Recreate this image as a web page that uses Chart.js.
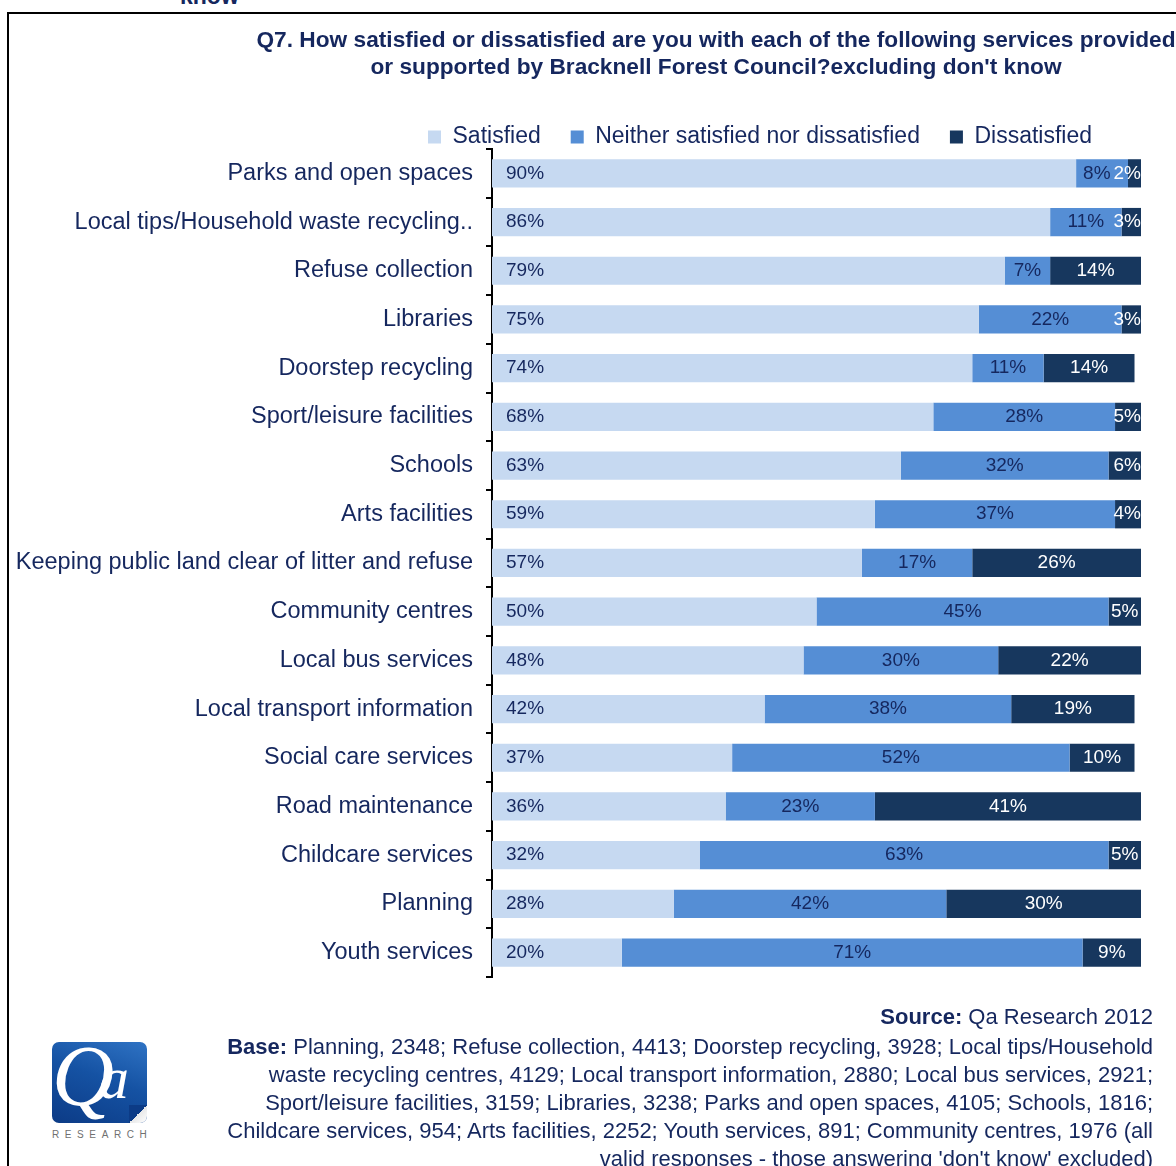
<!DOCTYPE html>
<html>
<head>
<meta charset="utf-8">
<script src="https://cdn.jsdelivr.net/npm/chart.js@4.4.1/dist/chart.umd.min.js"></script>
<style>
  html, body { margin: 0; padding: 0; background: #fff; }
  body { width: 1176px; height: 1166px; position: relative; overflow: hidden; font-family: 'Liberation Sans', Arial, sans-serif; color: #15275e; }
  .prev-head { position: absolute; left: 180px; top: -17px; font-weight: bold; font-size: 23px; color: #15275e; }
  .frame { position: absolute; left: 7px; top: 12px; width: 1200px; height: 1200px; border-left: 2px solid #000; border-top: 2px solid #000; }
  #wrap { position: absolute; left: 0; top: 14px; width: 1176px; height: 990px; }
  .foot { position: absolute; right: 23px; top: 1003px; text-align: right; font-size: 22px; line-height: 28px; white-space: nowrap; }
  .foot .src { margin-bottom: 2px; }
  .logo { position: absolute; left: 52px; top: 1042px; width: 95px; height: 81px; border-radius: 7px;
          background: linear-gradient(200deg, #2f73c4 0%, #1552a3 45%, #0c3b86 100%); overflow: hidden; }
  .logo .q { position: absolute; left: 0px; top: -16px; font-family: 'Liberation Serif', serif; font-style: italic; font-size: 86px; color: #fff; }
  .logo .a { position: absolute; left: 47px; top: 2px; font-family: 'Liberation Serif', serif; font-style: italic; font-size: 60px; color: #fff; }
  .logo .curl { position: absolute; right: 0; bottom: 0; width: 18px; height: 18px;
                background: linear-gradient(135deg, #0c3b86 50%, #e8e8e8 50%, #ffffff 100%); }
  .research { position: absolute; left: 52px; top: 1129px; font-size: 10px; letter-spacing: 5.6px; color: #707070; }
</style>
</head>
<body>
<div class="prev-head">know</div>
<div class="frame"></div>
<div id="wrap"><canvas id="chart"></canvas></div>
<div class="logo"><span class="q">Q</span><span class="a">a</span><div class="curl"></div></div>
<div class="research">RESEARCH</div>
<div class="foot">
  <div class="src"><b>Source:</b> Qa Research 2012</div>
  <div><b>Base:</b> Planning, 2348; Refuse collection, 4413; Doorstep recycling, 3928; Local tips/Household</div>
  <div>waste recycling centres, 4129; Local transport information, 2880; Local bus services, 2921;</div>
  <div>Sport/leisure facilities, 3159; Libraries, 3238; Parks and open spaces, 4105; Schools, 1816;</div>
  <div>Childcare services, 954; Arts facilities, 2252; Youth services, 891; Community centres, 1976 (all</div>
  <div>valid responses - those answering 'don't know' excluded)</div>
</div>
<script>
const services = [
  'Parks and open spaces',
  'Local tips/Household waste recycling..',
  'Refuse collection',
  'Libraries',
  'Doorstep recycling',
  'Sport/leisure facilities',
  'Schools',
  'Arts facilities',
  'Keeping public land clear of litter and refuse',
  'Community centres',
  'Local bus services',
  'Local transport information',
  'Social care services',
  'Road maintenance',
  'Childcare services',
  'Planning',
  'Youth services',
];
const satisfied    = [90, 86, 79, 75, 74, 68, 63, 59, 57, 50, 48, 42, 37, 36, 32, 28, 20];
const neither      = [ 8, 11,  7, 22, 11, 28, 32, 37, 17, 45, 30, 38, 52, 23, 63, 42, 71];
const dissatisfied = [ 2,  3, 14,  3, 14,  5,  6,  4, 26,  5, 22, 19, 10, 41,  5, 30,  9];

const NAVY = '#15275e';
const FONT = "'Liberation Sans', Arial, sans-serif";

// percentage labels inside the bars (first series left-aligned, the rest centred,
// pulled back inside the plot and kept from running into each other)
const barLabels = {
  id: 'barLabels',
  afterDatasetsDraw(chart) {
    const ctx = chart.ctx;
    const right = chart.chartArea.right;
    const n = chart.data.labels.length;
    ctx.save();
    ctx.font = `19px ${FONT}`;
    ctx.textBaseline = 'middle';
    for (let j = 0; j < n; j++) {
      let nextLeft = Infinity;
      for (let i = chart.data.datasets.length - 1; i >= 0; i--) {
        const bar = chart.getDatasetMeta(i).data[j];
        const txt = chart.data.datasets[i].data[j] + '%';
        const w = ctx.measureText(txt).width;
        ctx.fillStyle = i === 2 ? '#ffffff' : NAVY;
        if (i === 0) {
          ctx.textAlign = 'left';
          ctx.fillText(txt, bar.base + 14, bar.y);
          continue;
        }
        let x = Math.min((bar.x + bar.base) / 2, right - w / 2, nextLeft - 3 - w / 2);
        ctx.textAlign = 'center';
        ctx.fillText(txt, x, bar.y);
        nextLeft = x - w / 2;
      }
    }
    ctx.restore();
  }
};

// place title and legend where the report layout has them
const placeBoxes = {
  id: 'placeBoxes',
  afterLayout(chart) {
    const t = chart.titleBlock;
    if (t) { t.left = 236; t.right = 1196; t.width = 960; }
    const lg = chart.legend;
    if (lg) {
      const pad = lg.options.labels.padding;
      lg.left = 428 - pad; lg.right = 1176; lg.width = lg.right - lg.left;
      lg.top = 123 - pad - 11.5;
    }
  }
};

new Chart(document.getElementById('chart'), {
  type: 'bar',
  data: {
    labels: services,
    datasets: [
      { label: 'Satisfied', data: satisfied, backgroundColor: '#c6d9f1' },
      { label: 'Neither satisfied nor dissatisfied', data: neither, backgroundColor: '#558ed5' },
      { label: 'Dissatisfied', data: dissatisfied, backgroundColor: '#17375e' },
    ]
  },
  options: {
    indexAxis: 'y',
    responsive: true,
    maintainAspectRatio: false,
    animation: false,
    datasets: { bar: { barPercentage: 0.58, categoryPercentage: 1, borderWidth: 0 } },
    layout: { padding: { left: 0, right: 35, top: 0, bottom: 18 } },
    plugins: {
      title: {
        display: true,
        text: [
          'Q7. How satisfied or dissatisfied are you with each of the following services provided',
          "or supported by Bracknell Forest Council?excluding don't know",
        ],
        color: NAVY,
        font: { family: FONT, size: 22.7, weight: 'bold', lineHeight: '27px' },
        padding: { top: 13, bottom: 5 },
      },
      legend: {
        align: 'start',
        labels: {
          color: NAVY,
          font: { family: FONT, size: 23 },
          boxWidth: 13,
          boxHeight: 13,
          padding: 30,
        }
      },
      tooltip: { enabled: false },
    },
    scales: {
      x: { stacked: true, min: 0, max: 100, display: false },
      y: {
        stacked: true,
        afterFit: s => { s.width = 492; },
        border: { display: true, color: '#000', width: 2 },
        grid: { display: true, drawOnChartArea: false, drawTicks: true, tickLength: 6, color: '#000', lineWidth: 2, offset: true },
        ticks: { color: NAVY, font: { family: FONT, size: 23.5 }, padding: 13, autoSkip: false },
      }
    }
  },
  plugins: [barLabels, placeBoxes]
});
</script>
</body>
</html>
